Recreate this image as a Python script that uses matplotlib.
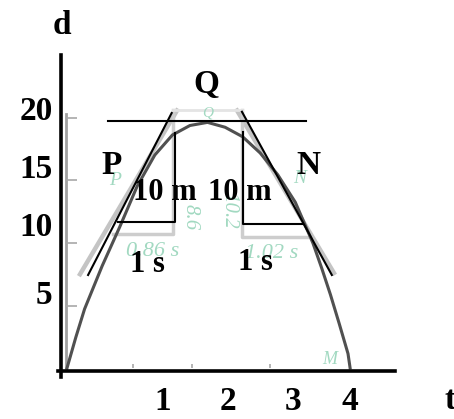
import matplotlib
matplotlib.use('Agg')
import matplotlib.pyplot as plt

# curve (time in s, height in m)
curve_t = [0, 0.125, 0.25, 0.5, 0.75, 1.0, 1.25, 1.5, 1.75, 2.0,
           2.25, 2.5, 2.75, 3.0, 3.25, 3.5, 3.625, 3.75, 3.875, 4.0, 4.03]
curve_d = [0, 2.45, 4.72, 8.16, 11.28, 14.56, 17.04, 18.64, 19.4, 19.65,
           19.26, 18.5, 17.2, 15.46, 13.26, 10.0, 8.0, 5.87, 3.55, 1.15, 0]

# tick labels of the drawn axes
xtick_pos = [1.367, 2.292, 3.217, 4.029]
xtick_lab = ['1', '2', '3', '4']
ytick_pos = [20.8, 16.16, 11.52, 6.08]
ytick_lab = ['20', '15', '10', '5']

# faint ticks of the underlying graph
grey_yticks = [5, 10, 15, 20]
grey_xticks = [0.94, 1.78, 2.89]

# tangent lines (black overlay and grey original)
tan_left_t = [0.30, 1.49]
tan_left_d = [7.44, 20.4]
tan_right_t = [2.49, 3.77]
tan_right_d = [20.5, 7.44]
tan_top_t = [0.584, 3.4]
tan_top_d = [19.76, 19.76]
grey_left_t = [0.185, 1.566]
grey_left_d = [7.5, 20.6]
grey_right_t = [2.42, 3.80]
grey_right_d = [20.6, 7.6]

# rise / run triangles
tri_left_t = [0.72, 1.537, 1.537]
tri_left_d = [11.68, 11.68, 18.8]
tri_right_t = [2.505, 2.505, 3.35]
tri_right_d = [18.88, 11.52, 11.52]
grey_tri_left_t = [0.655, 1.51, 1.51]
grey_tri_left_d = [10.72, 10.72, 20.6]
grey_tri_right_t = [2.49, 2.49, 3.41]
grey_tri_right_d = [20.6, 10.5, 10.5]

fig = plt.figure(figsize=(4.54, 4.19), dpi=100)
ax = fig.add_axes([0, 0, 1, 1])
ax.set_xlim(-0.954, 5.509)
ax.set_ylim(-4.08, 29.44)

bold = dict(family='Liberation Serif', fontweight='bold', color='black')
faint = dict(family='Liberation Serif', style='italic', color='#a2d9c1')

# underlying faded graph
ax.plot([-0.02, -0.02], [0, 20.3], color='#a0a0a0', lw=2)
ax.hlines(grey_yticks, -0.03, 0.14, color='#a8a8a8', lw=1.2)
ax.vlines(grey_xticks, 0, 0.3, color='#a8a8a8', lw=1.2)
ax.plot(grey_left_t, grey_left_d, color='#c4c4c4', lw=3.2)
ax.plot(grey_right_t, grey_right_d, color='#c4c4c4', lw=3.2)
ax.plot(grey_tri_left_t, grey_tri_left_d, color='#cdcdcd', lw=2.5)
ax.plot(grey_tri_right_t, grey_tri_right_d, color='#cdcdcd', lw=2.5)
ax.plot([1.51, 2.49], [20.6, 20.6], color='#e4e4e4', lw=2)
ax.plot(curve_t, curve_d, color='#505050', lw=2.2)

ax.text(0.683, 15.04, 'P', fontsize=14, ha='center', va='center', **faint)
ax.text(3.31, 15.2, 'N', fontsize=14, ha='center', va='center', **faint)
ax.text(1.224, 9.28, '0.86 s', fontsize=16, ha='center', va='center', **faint)
ax.text(2.918, 9.2, '1.02 s', fontsize=16, ha='center', va='center', **faint)
ax.text(1.751, 12.1, '8.6', fontsize=15, rotation=-90, ha='center', va='center', **faint)
ax.text(2.306, 12.6, '10.2', fontsize=15, rotation=-90, ha='center', va='center', **faint)
ax.text(2.0, 20.4, 'Q', fontsize=11, ha='center', va='center', **faint)
ax.text(3.74, 0.72, 'M', fontsize=13, ha='center', va='center', **faint)

# black overlay
ax.plot(tan_left_t, tan_left_d, color='black', lw=1.5)
ax.plot(tan_right_t, tan_right_d, color='black', lw=1.5)
ax.plot(tan_top_t, tan_top_d, color='black', lw=1.5)
ax.plot(tri_left_t, tri_left_d, color='black', lw=1.5)
ax.plot(tri_right_t, tri_right_d, color='black', lw=1.5)

ax.text(1.99, 22.64, 'Q', fontsize=24, ha='center', va='center', **bold)
ax.text(0.64, 16.24, 'P', fontsize=24, ha='center', va='center', **bold)
ax.text(3.43, 16.24, 'N', fontsize=24, ha='center', va='center', **bold)
ax.text(1.395, 14.08, '10 m', fontsize=22, ha='center', va='center', **bold)
ax.text(2.46, 14.08, '10 m', fontsize=22, ha='center', va='center', **bold)
ax.text(1.139, 8.24, '1 s', fontsize=22, ha='center', va='center', **bold)
ax.text(2.677, 8.4, '1 s', fontsize=22, ha='center', va='center', **bold)
ax.text(-0.07, 27.44, 'd', fontsize=24, ha='center', va='center', **bold)
ax.text(5.45, -2.56, 't', fontsize=24, ha='center', va='center', **bold)

# axes
for side in ['top', 'right']:
    ax.spines[side].set_visible(False)
ax.spines['left'].set_position(('data', -0.0854))
ax.spines['left'].set_bounds(-0.72, 25.04)
ax.spines['bottom'].set_position(('data', -0.24))
ax.spines['bottom'].set_bounds(-0.128, 4.67)
for side in ['left', 'bottom']:
    ax.spines[side].set_linewidth(2.6)
    ax.spines[side].set_color('black')

ax.set_xticks(xtick_pos, xtick_lab)
ax.set_yticks(ytick_pos, ytick_lab)
ax.tick_params(axis='both', length=0)
ax.tick_params(axis='x', pad=11)
ax.tick_params(axis='y', pad=6)
for lab in ax.get_xticklabels() + ax.get_yticklabels():
    lab.set_fontfamily('Liberation Serif')
    lab.set_fontweight('bold')
    lab.set_fontsize(24)

fig.savefig('out.png', dpi=100)
